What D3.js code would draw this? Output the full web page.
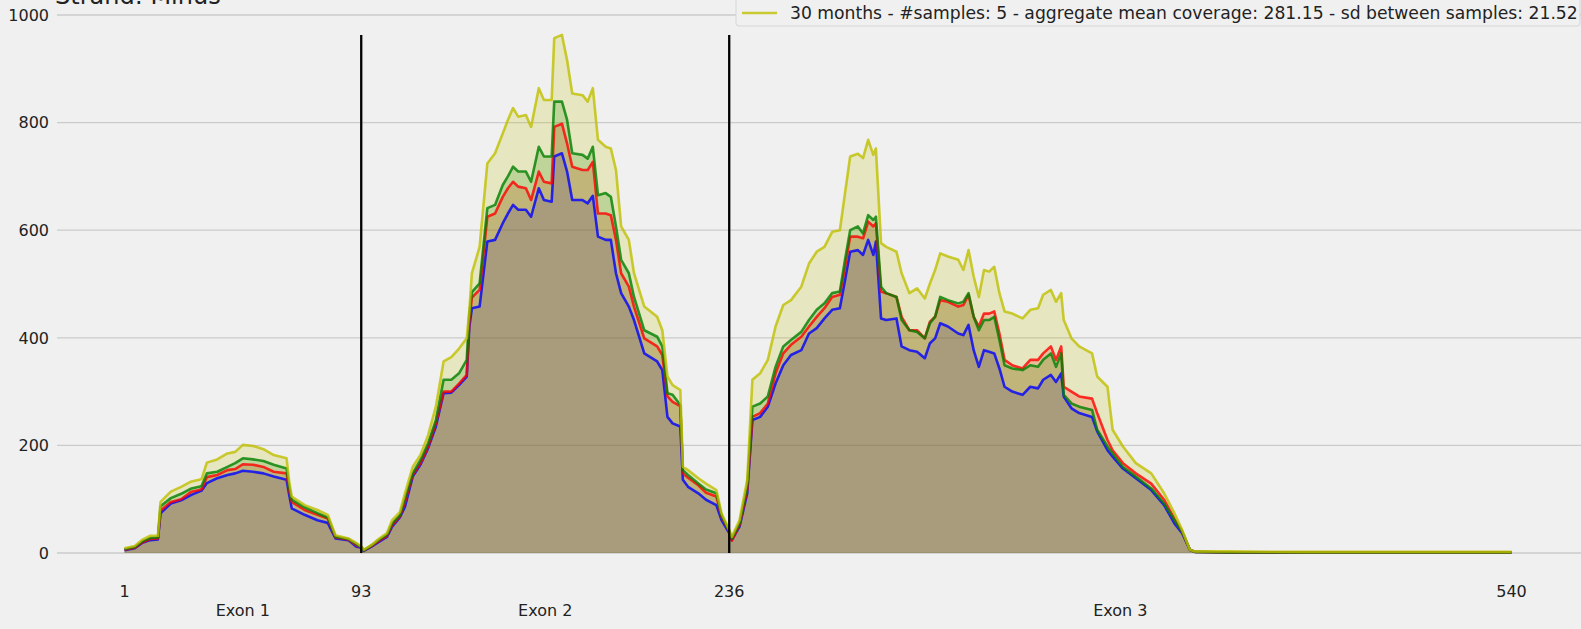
<!DOCTYPE html>
<html>
<head>
<meta charset="utf-8">
<script src="https://cdn.jsdelivr.net/npm/d3@7"></script>
<style>
  body { margin: 0; background: #f0f0f0; }
  svg { display: block; font-family: "DejaVu Sans", sans-serif; }
  .tick-label { font-size: 16px; fill: #222; }
</style>
</head>
<body>
<svg id="chart"></svg>
<script>
(function(){

var positions = [1, 5, 8, 11, 14, 15, 19, 23, 27, 30, 31, 33, 37, 41, 44, 47, 51, 55, 59, 64, 65, 66, 71, 76, 80, 83, 88, 91, 93,
  94, 97, 100, 103, 105, 108, 110, 113, 116, 119, 122, 125, 128, 131, 134, 135, 136, 139, 142, 145, 148, 150, 152, 154, 157, 159,
  162, 164, 167, 168, 171, 173, 175, 179, 181, 183, 185, 188, 190, 192, 194, 197, 199, 203, 208, 210, 212, 214, 217, 218, 220,
  224, 227, 231, 233, 236,
  237, 240, 243, 245, 248, 251, 254, 257, 260, 264, 267, 270, 273, 276, 279, 281, 283, 286, 288, 290, 292, 293, 295, 297, 301,
  303, 306, 309, 312, 314, 316, 318, 321, 325, 327, 329, 331, 333, 335, 337, 339, 341, 343, 346, 350, 353, 356, 358, 361, 363,
  365, 366, 369, 372, 377, 379, 383, 385, 389, 394, 400, 405, 409, 412, 415, 417, 430, 460, 500, 540];

var blueCov = [5, 9, 19, 24, 25, 74, 92, 98, 108, 114, 116, 130, 139, 145, 148, 153, 151, 148, 142, 136, 108, 83, 71, 61, 56, 27, 24, 12, 10,
  4, 12, 21, 30, 49, 66, 86, 142, 164, 195, 235, 297, 298, 312, 328, 420, 455, 458, 579, 582, 613, 631, 647, 638, 638, 625,
  678, 656, 653, 737, 743, 709, 656, 656, 650, 664, 588, 582, 582, 520, 483, 458, 433, 371, 356, 340, 253, 241, 235, 136, 123,
  111, 99, 89, 61, 37,
  24, 49, 111, 247, 253, 272, 315, 349, 368, 377, 408, 418, 436, 452, 455, 507, 560, 563, 554, 582, 554, 579, 436, 433, 436,
  384, 377, 374, 362, 390, 399, 427, 421, 408, 405, 424, 377, 346, 377, 374, 371, 343, 309, 300, 294, 309, 306, 322, 331, 318,
  334, 291, 269, 260, 253, 226, 191, 179, 157, 139, 117, 89, 55, 37, 6, 2, 1, 1, 1, 1];

var redCov = [6, 10, 20, 26, 27, 79, 95, 100, 114, 117, 119, 141, 145, 154, 156, 165, 164, 160, 151, 148, 117, 95, 80, 71, 64, 29, 25, 15, 11,
  5, 13, 23, 32, 52, 68, 95, 145, 167, 198, 241, 300, 300, 315, 331, 430, 475, 489, 625, 631, 662, 678, 690, 681, 678, 656,
  709, 690, 687, 792, 798, 761, 718, 712, 712, 727, 631, 631, 628, 582, 520, 495, 458, 399, 384, 368, 291, 281, 273, 148, 140,
  126, 112, 105, 68, 40,
  23, 52, 118, 253, 260, 278, 334, 371, 387, 402, 421, 439, 455, 476, 480, 532, 588, 588, 585, 616, 607, 613, 486, 483, 476,
  439, 414, 414, 399, 430, 439, 470, 467, 458, 461, 480, 439, 421, 445, 445, 449, 408, 359, 349, 343, 359, 359, 371, 384, 359,
  384, 309, 300, 291, 287, 260, 210, 191, 167, 148, 129, 99, 64, 40, 6, 2, 1, 1, 1, 1];

var greenCov = [7, 11, 22, 28, 29, 87, 102, 110, 120, 123, 125, 148, 151, 160, 167, 176, 174, 171, 164, 157, 123, 99, 85, 74, 66, 30, 26, 17, 11,
  5, 14, 25, 34, 55, 70, 102, 148, 173, 204, 247, 322, 322, 334, 359, 445, 485, 501, 641, 647, 684, 700, 718, 709, 709, 690,
  755, 737, 737, 839, 839, 805, 743, 740, 733, 755, 665, 669, 662, 607, 545, 520, 476, 414, 402, 384, 297, 294, 275, 154, 145,
  129, 118, 111, 70, 41,
  27, 55, 125, 272, 278, 291, 346, 384, 396, 411, 433, 452, 464, 483, 486, 545, 600, 607, 594, 628, 619, 625, 495, 483, 476,
  433, 414, 411, 399, 427, 439, 476, 470, 464, 467, 483, 439, 414, 433, 433, 439, 396, 349, 343, 340, 349, 346, 359, 371, 346,
  371, 294, 278, 272, 266, 229, 198, 185, 160, 142, 120, 92, 61, 40, 6, 2, 1, 1, 1, 1];

var yellowCov = [9, 13, 25, 32, 32, 95, 114, 123, 133, 136, 138, 168, 174, 185, 188, 201, 199, 193, 182, 176, 133, 105, 89, 80, 71, 33, 27, 19, 12,
  6, 15, 27, 37, 61, 76, 111, 160, 182, 219, 272, 356, 364, 380, 399, 450, 520, 569, 724, 743, 780, 805, 827, 811, 814, 792,
  864, 842, 842, 957, 963, 916, 854, 851, 839, 864, 768, 755, 752, 712, 607, 582, 520, 458, 439, 414, 328, 312, 303, 160, 154,
  139, 129, 117, 74, 43,
  30, 61, 136, 322, 334, 359, 421, 461, 470, 495, 538, 560, 569, 597, 600, 669, 737, 742, 734, 768, 740, 752, 576, 569, 560,
  520, 483, 492, 473, 501, 526, 557, 551, 545, 526, 563, 514, 476, 526, 523, 532, 483, 449, 445, 436, 452, 455, 480, 489, 467,
  483, 433, 399, 384, 371, 328, 309, 229, 198, 167, 148, 111, 74, 43, 6, 3, 3, 2, 2, 2];

var seriesColors = ["#0000ff", "#ff0000", "#008000", "#bfbf00"];
var yTicks = [0, 200, 400, 600, 800, 1000];
var xTicks = [1, 93, 236, 540];
var exonBounds = [93, 236];
var exonLabels = ["Exon 1", "Exon 2", "Exon 3"];
var exonCenters = [47, 164.5, 388];
var legendText = "30 months - #samples: 5 - aggregate mean coverage: 281.15 - sd between samples: 21.52";
var titleText = "Strand: Minus";

var W = 1581, H = 629;
var svg = d3.select("#chart").attr("width", W).attr("height", H);

svg.append("rect").attr("width", W).attr("height", H).attr("fill", "#f0f0f0");

var x = d3.scaleLinear().domain([-26, 567]).range([55, 1581]);
var y = d3.scaleLinear().domain([0, 1000]).range([553, 15]);

// horizontal grid + y labels
svg.selectAll("line.grid")
  .data(yTicks)
  .enter().append("line")
  .attr("class", "grid")
  .attr("x1", 57).attr("x2", W)
  .attr("y1", function(d){ return y(d) })
  .attr("y2", function(d){ return y(d) })
  .style("stroke", "#cbcbcb")
  .style("stroke-width", 1.3);

svg.selectAll("text.ylab")
  .data(yTicks)
  .enter().append("text")
  .attr("class", "ylab tick-label")
  .attr("x", 49)
  .attr("y", function(d){ return y(d) })
  .attr("dy", "0.36em")
  .style("text-anchor", "end")
  .text(function(d){ return d });

var series = [blueCov, redCov, greenCov, yellowCov].map(function(vals){
  return positions.map(function(p, i){ return {x: p, y: vals[i]} });
});

var area = d3.area()
  .x(function(d){ return x(d.x) })
  .y0(y(0))
  .y1(function(d){ return y(d.y) });

var line = d3.line()
  .x(function(d){ return x(d.x) })
  .y(function(d){ return y(d.y) });

// fills first, lines above them (matplotlib z-order)
svg.selectAll("path.fill")
  .data(series)
  .enter().append("path")
  .attr("class", "fill")
  .attr("d", area)
  .style("fill", function(d, i){ return seriesColors[i] })
  .style("fill-opacity", 0.2);

svg.selectAll("path.cov")
  .data(series)
  .enter().append("path")
  .attr("class", "cov")
  .attr("d", line)
  .style("fill", "none")
  .style("stroke", function(d, i){ return seriesColors[i] })
  .style("stroke-opacity", 0.8)
  .style("stroke-width", 2.6)
  .style("stroke-linejoin", "round");

// exon boundaries
var top = d3.max(yellowCov);
svg.selectAll("line.exon")
  .data(exonBounds)
  .enter().append("line")
  .attr("class", "exon")
  .attr("x1", function(d){ return x(d) })
  .attr("x2", function(d){ return x(d) })
  .attr("y1", y(0))
  .attr("y2", y(top))
  .style("stroke", "#000")
  .style("stroke-width", 2.3);

svg.selectAll("text.xlab")
  .data(xTicks)
  .enter().append("text")
  .attr("class", "xlab tick-label")
  .attr("x", function(d){ return x(d) })
  .attr("y", 597)
  .style("text-anchor", "middle")
  .text(function(d){ return d });

svg.selectAll("text.exonlab")
  .data(exonLabels)
  .enter().append("text")
  .attr("class", "exonlab tick-label")
  .attr("x", function(d, i){ return x(exonCenters[i]) })
  .attr("y", 616)
  .style("text-anchor", "middle")
  .text(function(d){ return d });

// title, mostly off the top of the figure
svg.append("text")
  .attr("x", 55)
  .attr("y", 4)
  .style("font-size", "24px")
  .style("fill", "#222")
  .text(titleText);

// legend: only the last entry is inside the figure
var lg = svg.append("g");
lg.append("rect")
  .attr("x", 736).attr("y", -60)
  .attr("width", 844).attr("height", 86)
  .attr("rx", 3)
  .style("fill", "#f0f0f0")
  .style("stroke", "#d6d6d6")
  .style("stroke-width", 1);
lg.append("line")
  .attr("x1", 742).attr("x2", 777)
  .attr("y1", 13).attr("y2", 13)
  .style("stroke", seriesColors[3])
  .style("stroke-opacity", 0.8)
  .style("stroke-width", 2.6);
lg.append("text")
  .attr("x", 790)
  .attr("y", 19)
  .style("font-size", "17.2px")
  .style("fill", "#222")
  .text(legendText);

})();
</script>
</body>
</html>
